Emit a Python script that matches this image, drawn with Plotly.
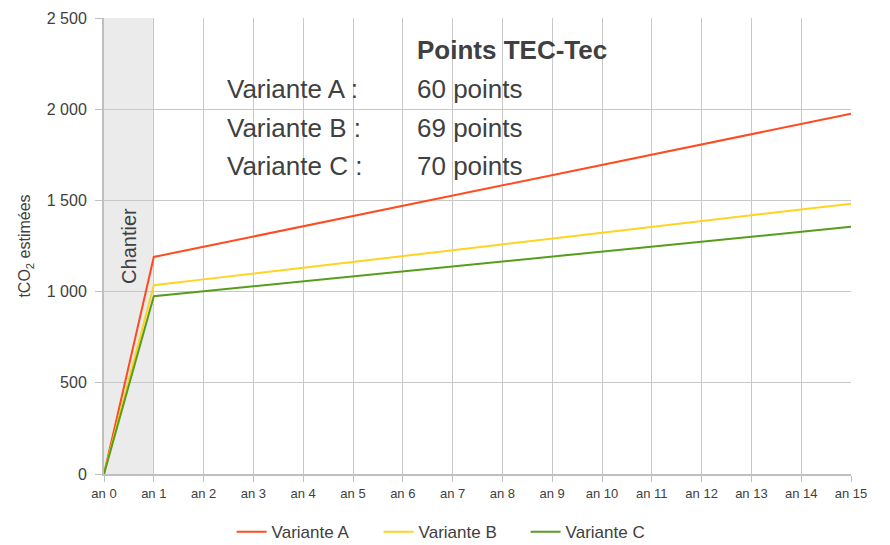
import plotly.graph_objects as go

years = [f"an {i}" for i in range(16)]
year_idx = list(range(16))

variante_a = [0, 1190, 1246, 1302, 1358, 1414, 1470, 1526, 1582, 1638, 1694, 1750, 1806, 1862, 1918, 1975]
variante_b = [0, 1035, 1067, 1099, 1131, 1163, 1195, 1227, 1259, 1291, 1323, 1355, 1387, 1419, 1451, 1482]
variante_c = [0, 975, 1002, 1029, 1056, 1083, 1110, 1137, 1164, 1191, 1218, 1245, 1272, 1299, 1326, 1355]

series = [
    ("Variante A", variante_a, "#FF4B1F"),
    ("Variante B", variante_b, "#FFD320"),
    ("Variante C", variante_c, "#579D1C"),
]

points_labels = ["Variante A :", "Variante B :", "Variante C :"]
points_values = ["60 points", "69 points", "70 points"]
points_rows_y = [2111, 1897, 1689]

FONT = "Liberation Sans, Arial, sans-serif"
TXT = "#404040"

fig = go.Figure()
for name, vals, col in series:
    fig.add_trace(go.Scatter(
        x=year_idx, y=vals, name=name, mode="lines",
        line=dict(color=col, width=2),
    ))

# construction period band
fig.add_shape(type="rect", xref="x", yref="y", x0=0, x1=1, y0=0, y1=2500,
              fillcolor="#EBEBEB", line=dict(width=0), layer="below")
fig.add_annotation(x=0.5, y=1250, xref="x", yref="y", text="Chantier",
                   textangle=-90, showarrow=False,
                   font=dict(family=FONT, size=20, color=TXT))

fig.add_annotation(x=6.25, y=2325, xref="x", yref="y", text="<b>Points TEC-Tec</b>",
                   showarrow=False, xanchor="left",
                   font=dict(family=FONT, size=26, color=TXT))
for lab, val, yv in zip(points_labels, points_values, points_rows_y):
    fig.add_annotation(x=2.43, y=yv, xref="x", yref="y", text=lab, showarrow=False,
                       xanchor="left", font=dict(family=FONT, size=26, color=TXT))
    fig.add_annotation(x=6.25, y=yv, xref="x", yref="y", text=val, showarrow=False,
                       xanchor="left", font=dict(family=FONT, size=26, color=TXT))

fig.update_layout(
    width=890, height=545,
    margin=dict(l=104, r=39, t=18, b=71, autoexpand=False),
    paper_bgcolor="white", plot_bgcolor="white",
    separators=", ",
    font=dict(family=FONT, color=TXT),
    legend=dict(orientation="h", x=0.466, xanchor="center", y=-0.088, yanchor="top",
                entrywidth=102, entrywidthmode="pixels",
                font=dict(family=FONT, size=17, color=TXT)),
    showlegend=True,
)
fig.update_xaxes(
    range=[0, 15], tickmode="array", tickvals=year_idx, ticktext=years,
    showgrid=True, gridcolor="#C8C8C8", gridwidth=1,
    showline=True, linecolor="#BFBFBF", linewidth=2,
    ticks="outside", ticklen=6, tickcolor="#BFBFBF",
    tickfont=dict(family=FONT, size=13, color=TXT),
    zeroline=False, mirror=False,
)
fig.update_yaxes(
    range=[0, 2500], dtick=500, tickformat=",d",
    showgrid=True, gridcolor="#C8C8C8", gridwidth=1,
    showline=True, linecolor="#BFBFBF", linewidth=2,
    ticks="outside", ticklen=7, tickcolor="#BFBFBF",
    ticklabelstandoff=5,
    tickfont=dict(family=FONT, size=16, color=TXT),
    zeroline=False,
    title=dict(text="tCO<sub>2</sub> estimées", font=dict(family=FONT, size=16, color=TXT), standoff=12),
)

fig.write_html("out.html")
